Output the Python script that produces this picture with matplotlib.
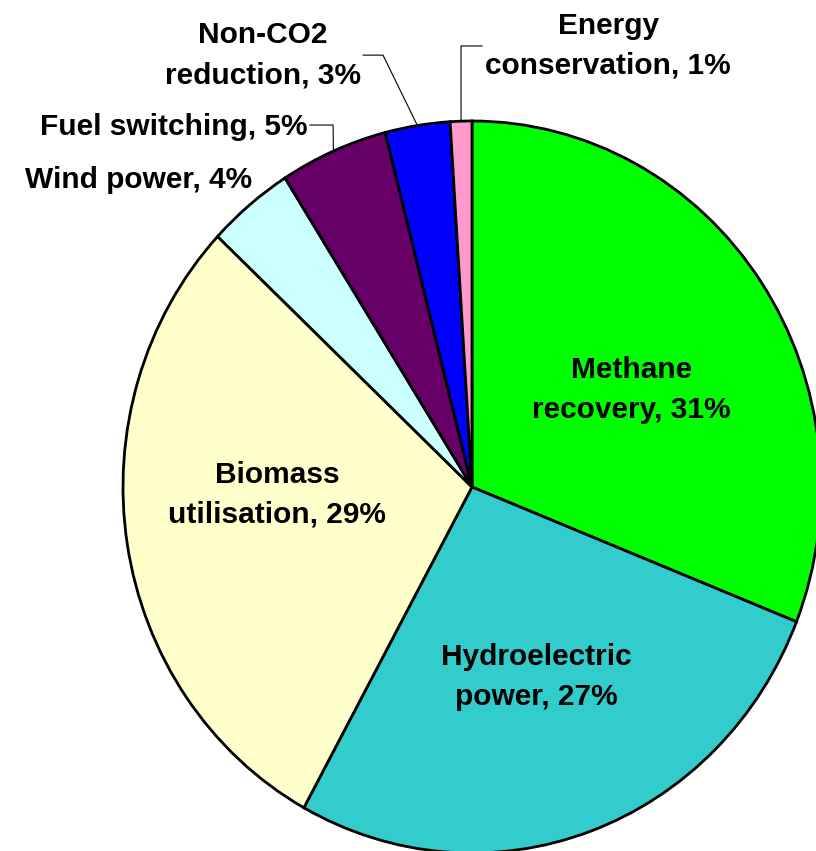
import numpy as np
import matplotlib
matplotlib.use("Agg")
import matplotlib.pyplot as plt

# Share of projects by type (percent), clockwise from 12 o'clock
categories = ["Methane\nrecovery", "Hydroelectric\npower", "Biomass\nutilisation",
              "Wind power", "Fuel switching", "Non-CO2\nreduction", "Energy\nconservation"]
shares = [31, 27, 29, 4, 5, 3, 1]
colors = ["#00FF00", "#33CCCC", "#FFFFCC", "#CCFFFF", "#660066", "#0000FF", "#FF99CC"]

W, H = 816, 851
fig = plt.figure(figsize=(W / 100, H / 100), dpi=100)
fig.patch.set_facecolor("white")

# pie axes in pixel terms: centre (472, 487), radii 349 (x) / 366 (y)
cx, cy, rx, ry = 472, 487, 349, 366
L = 1.03
ax = fig.add_axes([(cx - rx * L) / W, (H - cy - ry * L) / H,
                   2 * rx * L / W, 2 * ry * L / H])

wedges, _ = ax.pie(shares, colors=colors, startangle=90, counterclock=False,
                   wedgeprops=dict(edgecolor="black", linewidth=2.0))
ax.set_xlim(-L, L)
ax.set_ylim(-L, L)
ax.set_aspect("auto")
ax.axis("off")

font = dict(family=["Liberation Sans", "DejaVu Sans"], fontweight="bold",
            fontsize=21.5, color="black")
line_step = 40 / ry  # baseline-to-baseline spacing in data units

# label anchors: (x, first baseline y, horizontal alignment)
label_pos = [
    (0.456, 0.298, "center"),
    (0.183, -0.486, "center"),
    (-0.559, 0.011, "center"),
    (-0.630, 0.817, "right"),
    (-0.470, 0.962, "right"),
    (-0.599, 1.213, "center"),
    (0.390, 1.238, "center"),
]

for name, val, (x, y, ha) in zip(categories, shares, label_pos):
    lines = name.split("\n")
    lines[-1] = f"{lines[-1]}, {val}%"
    for i, ln in enumerate(lines):
        ax.text(x, y - i * line_step, ln, ha=ha, va="baseline", clip_on=False, **font)

# leader lines for the thin slices: text end -> elbow -> wedge rim
leaders = {
    4: [(-0.464, 0.989), (-0.398, 0.989)],
    5: [(-0.312, 1.180), (-0.255, 1.180)],
    6: [(0.029, 1.205), (-0.0315, 1.205)],
}
for idx, pts in leaders.items():
    w = wedges[idx]
    mid = np.deg2rad((w.theta1 + w.theta2) / 2)
    rim = (np.cos(mid), np.sin(mid))
    xs = [p[0] for p in pts] + [rim[0]]
    ys = [p[1] for p in pts] + [rim[1]]
    ax.plot(xs, ys, color="black", linewidth=0.8, clip_on=False)

fig.savefig("out.png", dpi=100, facecolor="white")
